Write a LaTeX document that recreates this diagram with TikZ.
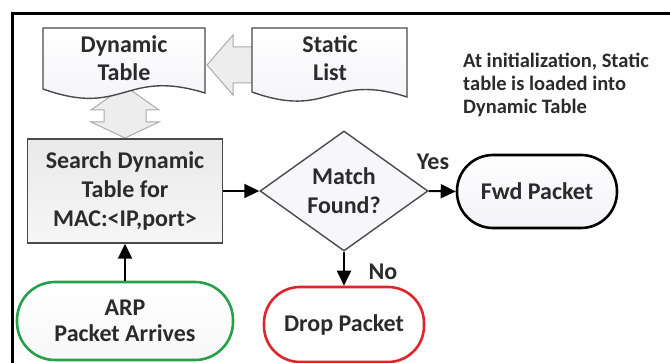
\documentclass[tikz,border=0pt]{standalone}
\usepackage{fontspec}
\setmainfont{Carlito}
\usetikzlibrary{arrows.meta,shapes.geometric}
\definecolor{inkgray}{HTML}{2B2B2B}
\definecolor{boxline}{HTML}{4A4A4A}
\definecolor{arpgreen}{HTML}{27A04A}
\definecolor{dropred}{HTML}{E0242C}
\definecolor{hollowfill}{HTML}{EDEDED}
\definecolor{hollowline}{HTML}{ABABAB}
\definecolor{paleblue}{HTML}{F2F2F8}
\tikzset{
  lbl/.style={font=\bfseries\fontsize{24}{29}\selectfont, text=inkgray, align=center, inner sep=0pt},
  doclbl/.style={lbl, font=\bfseries\fontsize{24}{28}\selectfont},
  note/.style={font=\bfseries\fontsize{20.5}{23}\selectfont, text=inkgray, align=left, inner sep=0pt},
  docshape/.style={draw=boxline, line width=1.4pt, top color=white, bottom color=paleblue},
  hollow/.style={draw=hollowline, fill=hollowfill, line width=1pt},
  processbox/.style={lbl, draw=boxline, line width=1.4pt, top color=gray!17, bottom color=gray!7, rectangle},
  decision/.style={lbl, draw=boxline, line width=1.4pt, fill=paleblue!60, diamond, aspect=1.4},
  terminal/.style={lbl, line width=2.6pt, rounded corners=36pt, rectangle},
  flow/.style={line width=2pt, draw=black, -{Triangle[length=15pt,width=14pt]}},
}
\begin{document}
\begin{tikzpicture}[x=1pt,y=-1pt]
\useasboundingbox (0,0) rectangle (670,363);

% outer frame (runs off the right and bottom)
\draw[line width=3pt] (12,363) -- (12,14) -- (670,14);

% hollow arrow: static list feeds dynamic table
\draw[hollow] (207,65) -- (233,35) -- (233,47) -- (256,47) -- (256,83)
  -- (233,83) -- (233,95) -- cycle;

% hollow double arrow between dynamic table and search box
\draw[hollow] (125,86) -- (159,110) -- (146,110) -- (146,122) -- (159,122)
  -- (125,138) -- (91,122) -- (104,122) -- (104,110) -- (91,110) -- cycle;

% document shapes
\draw[docshape] (43,28) -- (205,28) -- (205,93)
  .. controls (124,68) and (124,118) .. (43,89) -- cycle;
\draw[docshape] (252,28) -- (407,28) -- (407,97)
  .. controls (330,72) and (330,120) .. (252,92) -- cycle;
\node[doclbl] (dyn) at (124,58) {Dynamic\\Table};
\node[doclbl] (stat) at (330,58) {Static\\List};

% explanatory note
\node[note, anchor=west] (init) at (463,85)
  {At initialization, Static\\table is loaded into\\Dynamic Table};

% flow nodes
\node[processbox, minimum width=195pt, minimum height=104pt] (search) at (125,191)
  {Search Dynamic\\Table for\\MAC:<IP,port>};
\node[decision, minimum width=168pt, minimum height=120pt] (match) at (344,191)
  {Match\\Found?};
\node[terminal, draw=black, top color=white, bottom color=paleblue,
  minimum width=160pt, minimum height=73pt] (fwd) at (537,191.5) {Fwd Packet};
\node[terminal, draw=dropred, fill=white,
  minimum width=160pt, minimum height=75pt] (drop) at (344,324.5) {Drop Packet};
\node[terminal, draw=arpgreen, top color=white, bottom color=gray!6,
  font=\bfseries\fontsize{24}{26}\selectfont,
  minimum width=216pt, minimum height=78pt, rounded corners=38pt] (arp) at (125,321)
  {ARP\\Packet Arrives};

% connectors
\draw[flow] (search.east) -- (match.west);
\draw[flow] (match.east) -- (fwd.west);
\draw[flow] (match.south) -- (drop.north);
\draw[flow] (arp.north) -- (search.south);

% branch labels
\node[lbl] (yes) at (433,162) {Yes};
\node[lbl] (no) at (383,272) {No};
\end{tikzpicture}
\end{document}
